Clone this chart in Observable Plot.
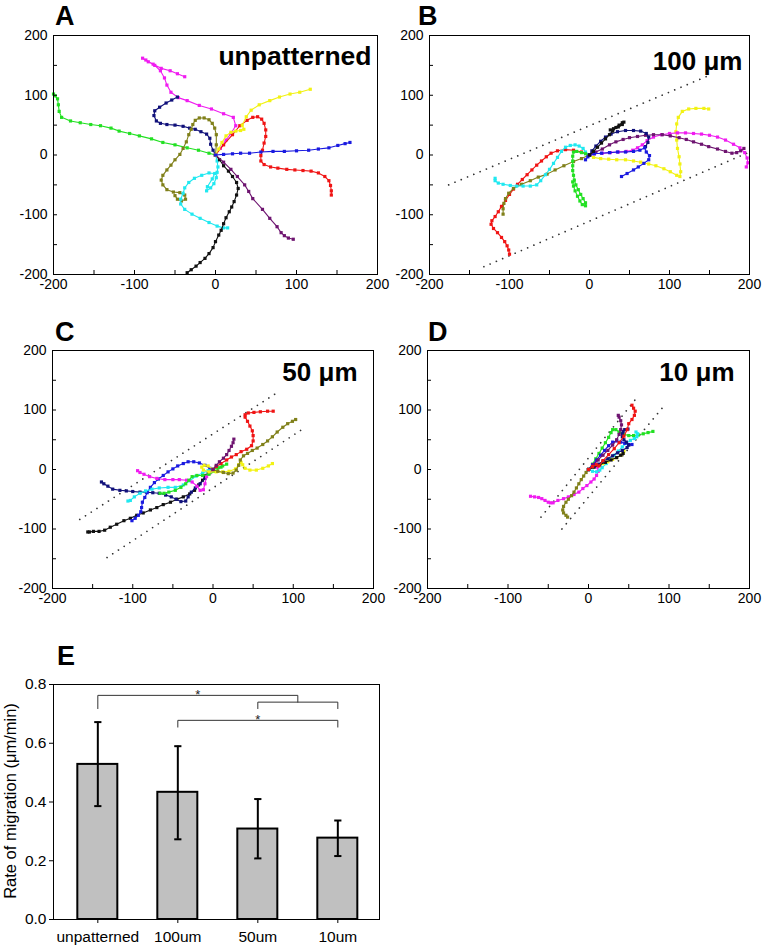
<!DOCTYPE html>
<html><head><meta charset="utf-8">
<script src="https://cdn.jsdelivr.net/npm/d3@7"></script>
<script src="https://cdn.jsdelivr.net/npm/@observablehq/plot@0.6"></script>
<style>
body{margin:0;background:#fff;}
#root{position:relative;width:764px;height:947px;overflow:hidden;font-family:"Liberation Sans",Arial,sans-serif;color:#000;}
.panel{position:absolute;}
.letter{position:absolute;font-weight:bold;font-size:27px;line-height:1;}
.ylab{position:absolute;white-space:nowrap;font-size:16.5px;transform:translate(-50%,-50%) rotate(-90deg);}
</style></head><body><div id="root"></div>
<script>
// ---------- Panel A: unpatterned ----------
const A_magenta=[[0,0],[6,11],[13,25],[19,36],[25,49],[22,63],[10,69],[-5,77],[-20,83],[-35,91],[-46,96],[-55,105],[-60,117],[-63,129],[-68,141],[-75,150],[-83,156],[-90,162],[-86,159],[-77,152],[-67,145],[-56,141],[-47,136],[-38,131]];
const A_green=[[0,0],[-8,3],[-21,8],[-35,12],[-50,17],[-65,21],[-79,27],[-94,32],[-106,36],[-119,40],[-129,45],[-142,49],[-154,51],[-167,54],[-179,57],[-190,63],[-193,73],[-194,84],[-195,94],[-198,99],[-200,102]];
const A_navy=[[0,0],[-3,8],[-6,18],[-7,28],[-11,35],[-18,39],[-25,43],[-32,45],[-40,48],[-50,50],[-60,51],[-68,53],[-73,57],[-76,66],[-75,74],[-69,80],[-61,87],[-54,92],[-47,97]];
const A_olive=[[0,0],[1,17],[1,34],[-1,45],[-4,53],[-8,59],[-14,62],[-20,62],[-25,58],[-28,51],[-30,43],[-33,34],[-36,22],[-40,11],[-44,1],[-50,-8],[-55,-17],[-60,-25],[-65,-34],[-67,-42],[-65,-50],[-60,-58],[-52,-62],[-44,-63],[-38,-67],[-37,-74],[-42,-77],[-47,-74],[-50,-68]];
const A_cyan=[[0,0],[2,-10],[3,-20],[2,-29],[1,-38],[-2,-48],[-6,-55],[-11,-60],[-10,-53],[-4,-40],[-1,-31],[-8,-30],[-17,-34],[-26,-39],[-33,-46],[-38,-55],[-40,-64],[-43,-74],[-43,-82],[-38,-91],[-29,-99],[-19,-106],[-8,-113],[2,-119],[10,-122],[15,-122]];
const A_black=[[0,0],[5,-8],[10,-18],[16,-27],[21,-36],[26,-46],[28,-56],[26,-67],[23,-78],[20,-87],[17,-95],[13,-105],[10,-115],[7,-126],[4,-134],[0,-145],[-3,-155],[-8,-165],[-13,-173],[-19,-180],[-24,-186],[-30,-192],[-35,-197]];
const A_purple=[[0,0],[10,-12],[19,-24],[27,-36],[36,-50],[41,-61],[46,-73],[58,-91],[67,-106],[76,-120],[81,-130],[85,-135],[90,-139],[96,-141]];
const A_yellow=[[0,0],[4,10],[8,21],[13,32],[19,38],[25,40],[31,41],[35,43],[33,50],[38,64],[44,75],[54,84],[67,91],[79,97],[92,102],[104,105],[117,110]];
const A_red=[[0,0],[10,17],[21,34],[30,49],[39,58],[46,63],[52,64],[57,60],[60,53],[62,42],[62,31],[60,20],[58,8],[56,-1],[56,-10],[60,-16],[68,-20],[77,-22],[88,-24],[98,-25],[108,-26],[118,-27],[127,-30],[135,-36],[140,-43],[142,-51],[143,-60],[143,-67]];
const A_blue=[[0,0],[10,1],[21,2],[31,3],[42,3],[56,5],[71,6],[85,6],[100,7],[115,8],[127,10],[140,12],[151,16],[160,19],[166,21]];

// ---------- Panel B: 100 µm ----------
const B_red=[[0,0],[-10,5],[-20,8],[-30,9],[-40,7],[-48,3],[-54,-3],[-60,-10],[-66,-17],[-72,-25],[-78,-33],[-84,-41],[-90,-49],[-95,-57],[-100,-66],[-105,-76],[-110,-86],[-114,-95],[-118,-103],[-122,-110],[-123,-116],[-120,-123],[-115,-130],[-110,-138],[-106,-145],[-103,-152],[-101,-159],[-100,-166]];
const B_cyan=[[0,0],[-5,5],[-8,11],[-13,15],[-18,17],[-24,16],[-30,13],[-35,6],[-40,-4],[-45,-14],[-50,-24],[-55,-33],[-61,-43],[-66,-50],[-74,-52],[-83,-52],[-91,-52],[-99,-51],[-108,-49],[-114,-47],[-118,-43],[-118,-39]];
const B_olive=[[0,0],[-10,-6],[-20,-11],[-32,-18],[-43,-25],[-53,-32],[-64,-37],[-74,-43],[-85,-49],[-95,-56],[-101,-64],[-105,-73],[-107,-81],[-108,-90],[-108,-99]];
const B_green=[[0,0],[-5,2],[-10,4],[-16,6],[-20,5],[-21,-2],[-21,-10],[-21,-18],[-21,-26],[-20,-34],[-19,-42],[-17,-50],[-14,-58],[-11,-66],[-8,-73],[-5,-80],[-5,-85],[-9,-83],[-12,-77],[-15,-69],[-18,-60],[-20,-52],[-21,-45]];
const B_black=[[0,0],[5,6],[10,13],[15,20],[20,27],[25,34],[29,40],[33,46],[37,50],[41,54],[43,55],[41,51],[36,47],[30,44],[26,42]];
const B_navy=[[0,0],[3,7],[8,15],[14,23],[20,30],[27,35],[35,39],[45,41],[55,41],[64,40],[71,36],[74,30],[73,21],[70,14]];
const B_blue=[[0,0],[-5,-8],[-2,-3],[6,2],[15,3],[25,4],[35,5],[45,5],[55,6],[63,8],[69,12],[71,5],[75,-1],[74,-8],[68,-14],[61,-20],[55,-25],[47,-31],[40,-36]];
const B_yellow=[[0,0],[5,-4],[14,-6],[24,-7],[34,-8],[45,-8],[55,-10],[64,-12],[74,-15],[83,-18],[93,-23],[101,-28],[109,-34],[113,-36],[114,-28],[113,-15],[112,-3],[110,11],[109,25],[108,39],[109,52],[111,63],[116,73],[124,77],[133,78],[143,78],[149,77]];
const B_magenta=[[0,0],[6,2],[16,3],[26,4],[36,5],[46,6],[54,8],[60,12],[66,17],[72,24],[80,30],[90,34],[100,36],[110,37],[120,37],[130,36],[140,35],[150,33],[160,30],[170,25],[180,18],[188,12],[194,4],[197,-5],[198,-13],[196,-20]];
const B_purple=[[0,0],[8,5],[16,10],[25,17],[33,22],[42,26],[50,29],[60,31],[70,33],[80,34],[91,34],[101,32],[112,29],[121,26],[130,22],[140,18],[149,14],[160,10],[170,6],[178,3],[184,4],[189,7],[193,11]];
const B_guideUpper=[[-176,-50],[151,134]];
const B_guideLower=[[-132,-187],[200,5]];

// ---------- Panel C: 50 µm ----------
const C_red=[[0,0],[4,5],[10,10],[17,16],[23,21],[29,25],[35,30],[42,34],[48,40],[50,48],[50,57],[49,65],[46,73],[43,81],[40,88],[40,92],[44,95],[51,96],[59,97],[68,98],[75,98]];
const C_olive=[[0,0],[6,-3],[13,-5],[19,-7],[25,-6],[29,-1],[32,7],[34,16],[38,23],[43,27],[49,32],[55,36],[62,42],[68,48],[74,55],[80,63],[87,71],[93,77],[99,81],[103,84]];
const C_yellow=[[0,0],[-6,6],[-11,7],[-14,4],[-12,-1],[-5,-4],[4,-4],[12,-4],[20,-3],[28,1],[32,8],[35,12],[37,8],[40,2],[46,-1],[54,-1],[62,2],[69,6],[74,10]];
const C_magenta=[[0,0],[-4,-6],[-8,-12],[-10,-24],[-12,-34],[-16,-35],[-20,-28],[-26,-21],[-33,-18],[-42,-17],[-50,-17],[-60,-17],[-70,-15],[-79,-12],[-86,-8],[-91,-5],[-94,-2]];
const C_cyan=[[0,0],[-6,-2],[-13,-6],[-21,-11],[-29,-19],[-37,-26],[-47,-30],[-56,-30],[-67,-31],[-76,-33],[-84,-36],[-91,-40],[-98,-46],[-103,-52],[-106,-53]];
const C_green=[[0,0],[6,3],[12,6],[17,9],[10,4],[3,-3],[-5,-8],[-13,-10],[-20,-10],[-26,-12],[-30,-18],[-34,-24],[-40,-30],[-47,-35],[-55,-38],[-61,-40],[-66,-40]];
const C_purple=[[0,0],[4,7],[8,13],[13,19],[17,25],[20,32],[23,39],[25,45],[26,51]];
const C_navy=[[0,0],[-6,-7],[-10,-15],[-16,-24],[-22,-31],[-27,-38],[-31,-46],[-34,-53],[-40,-54],[-46,-50],[-52,-46],[-59,-43],[-67,-40],[-75,-39],[-83,-38],[-91,-38],[-100,-37],[-108,-36],[-116,-35],[-125,-33],[-131,-28],[-136,-24],[-139,-21]];
const C_blue=[[0,0],[-4,2],[-10,7],[-17,11],[-24,13],[-31,13],[-37,10],[-44,6],[-50,1],[-56,-4],[-62,-10],[-68,-16],[-73,-22],[-78,-30],[-82,-39],[-85,-47],[-88,-55],[-89,-64],[-90,-71],[-93,-77],[-97,-82],[-101,-86]];
const C_black=[[0,0],[-9,-10],[-13,-18],[-18,-26],[-23,-35],[-29,-41],[-37,-46],[-45,-50],[-53,-55],[-62,-59],[-70,-64],[-78,-68],[-87,-73],[-95,-77],[-103,-82],[-111,-86],[-120,-92],[-128,-97],[-135,-102],[-142,-104],[-149,-104],[-154,-105],[-156,-105]];
const C_guideUpper=[[-166,-84],[81,130]];
const C_guideLower=[[-132,-148],[114,70]];

// ---------- Panel D: 10 µm ----------
const D_magenta=[[0,0],[5,5],[8,9],[11,4],[12,-3],[10,-10],[7,-16],[3,-21],[-2,-27],[-7,-32],[-12,-38],[-18,-42],[-25,-46],[-31,-49],[-38,-52],[-44,-56],[-47,-56],[-50,-55],[-54,-52],[-58,-49],[-62,-47],[-67,-46],[-72,-45]];
const D_olive=[[0,0],[-3,-5],[-6,-11],[-9,-17],[-12,-24],[-15,-31],[-18,-38],[-21,-44],[-25,-50],[-28,-55],[-31,-62],[-32,-68],[-31,-73],[-28,-77],[-26,-80]];
const D_red=[[0,0],[5,5],[10,8],[13,6],[18,15],[25,25],[32,35],[38,45],[44,56],[48,67],[50,77],[54,84],[57,91],[58,98],[56,103],[54,108]];
const D_purple=[[0,0],[6,8],[12,16],[18,24],[24,32],[30,41],[35,50],[38,59],[40,67],[41,75],[40,82],[38,88],[37,91]];
const D_green=[[0,0],[5,9],[9,18],[13,27],[17,36],[21,45],[25,54],[28,62],[30,67],[34,67],[38,63],[44,59],[50,57],[56,57],[62,58],[68,60],[74,62],[80,64]];
const D_navy=[[0,0],[6,5],[12,9],[18,14],[24,18],[30,23],[36,28],[42,32],[48,37],[50,41],[47,46],[44,50],[42,55],[42,60],[43,64],[45,67],[49,68]];
const D_blue=[[0,0],[5,8],[10,16],[15,24],[20,32],[25,40],[30,46],[35,48],[40,46],[45,44],[50,42],[54,42]];
const D_cyan=[[0,0],[5,-3],[10,-4],[14,-1],[17,3],[22,10],[27,17],[32,24],[37,31],[42,38],[47,44],[52,49],[57,52],[60,55],[61,60],[59,63]];
const D_yellow=[[0,0],[6,4],[12,7],[18,10],[24,13],[30,17],[35,20],[40,24],[43,27],[44,31]];
const D_black=[[0,0],[7,4],[14,8],[21,12],[28,16],[35,20],[40,24],[43,27]];
const D_guideLeft=[[-59,-80],[62,124]];
const D_guideRight=[[-33,-100],[92,104]];

// ---------- Panel E: bar chart ----------
const E_categories=["unpatterned","100um","50um","10um"];
const E_rate=[0.528,0.433,0.308,0.277];
const E_errHigh=[0.672,0.590,0.410,0.337];
const E_errLow=[0.386,0.273,0.208,0.216];
const E_bracket1=[[0,0.718],[0,0.763],[2.5,0.763],[2.5,0.740]];
const E_bracket2=[[2,0.718],[2,0.740],[3,0.740],[3,0.718]];
const E_bracket3=[[1,0.655],[1,0.678],[3,0.678],[3,0.655]];
const E_stars=[[1.25,0.780],[2,0.692]];

const axisMajor=[-200,-100,0,100,200];
const axisMinor=[-150,-50,50,150];
const yTicksE=[0,0.2,0.4,0.6,0.8];

// colours (style)
const COL={magenta:"#f01cf0",green:"#22e022",navy:"#10107a",olive:"#80801a",cyan:"#20e8f0",black:"#111111",purple:"#6e1470",yellow:"#f2f214",red:"#f01414",blue:"#1a1ae0"};
const FONT='"Liberation Sans", Arial, sans-serif';

const root=document.getElementById("root");

function trajPanel(o){
  const marks=[];
  for(const g of o.guides){
    marks.push(Plot.line(g,{x:d=>d[0],y:d=>d[1],stroke:"#333",strokeWidth:1.7,strokeDasharray:"0.01,6.8",strokeLinecap:"round"}));
  }
  for(const s of o.series){
    marks.push(Plot.line(s.pts,{x:d=>d[0],y:d=>d[1],stroke:s.color,strokeWidth:1.1}));
    marks.push(Plot.dot(s.pts,{x:d=>d[0],y:d=>d[1],symbol:"square",r:1.8,fill:s.color,stroke:null}));
  }
  marks.push(Plot.frame({stroke:"#000",strokeWidth:1}));
  marks.push(Plot.axisX({ticks:axisMajor,tickSize:0,tickPadding:5,tickFormat:d=>String(d),fontSize:14,label:null}));
  marks.push(Plot.axisX({ticks:axisMajor.concat(axisMinor),tickSize:-4,tickFormat:()=>"",label:null}));
  marks.push(Plot.axisY({ticks:axisMajor,tickSize:0,tickPadding:6,tickFormat:d=>String(d),fontSize:14,label:null}));
  marks.push(Plot.axisY({ticks:axisMajor.concat(axisMinor),tickSize:-4,tickFormat:()=>"",label:null}));
  marks.push(Plot.text([o.label],{text:d=>d,frameAnchor:"top-right",textAnchor:"end",lineAnchor:"top",dx:o.ldx,dy:o.ldy,fontSize:o.lfs,fontWeight:"bold",fill:"#000"}));
  const svg=Plot.plot({
    width:o.w,height:o.h,marginLeft:o.ml,marginRight:o.mr,marginTop:o.mt,marginBottom:o.mb,
    x:{domain:[-200,200],label:null},y:{domain:[-200,200],label:null},
    style:{fontFamily:FONT,fontSize:"14px",color:"#000",background:"transparent",overflow:"visible"},
    marks
  });
  const div=document.createElement("div");
  div.className="panel";div.style.left=o.left+"px";div.style.top=o.top+"px";
  div.appendChild(svg);root.appendChild(div);
}

trajPanel({left:0,top:0,w:382,h:310,ml:53,mr:5,mt:35,mb:36,ldx:-6,ldy:11,lfs:26.5,label:"unpatterned",guides:[],
  series:[{pts:A_green,color:COL.green},{pts:A_magenta,color:COL.magenta},{pts:A_navy,color:COL.navy},{pts:A_olive,color:COL.olive},{pts:A_cyan,color:COL.cyan},{pts:A_black,color:COL.black},{pts:A_purple,color:COL.purple},{pts:A_red,color:COL.red},{pts:A_yellow,color:COL.yellow},{pts:A_blue,color:COL.blue}]});
trajPanel({left:382,top:0,w:382,h:310,ml:47,mr:15,mt:35,mb:36,ldx:-7,ldy:16,lfs:26,label:"100 \u03bcm",guides:[B_guideUpper,B_guideLower],
  series:[{pts:B_red,color:COL.red},{pts:B_olive,color:COL.olive},{pts:B_cyan,color:COL.cyan},{pts:B_green,color:COL.green},{pts:B_yellow,color:COL.yellow},{pts:B_magenta,color:COL.magenta},{pts:B_purple,color:COL.purple},{pts:B_navy,color:COL.navy},{pts:B_blue,color:COL.blue},{pts:B_black,color:COL.black}]});
trajPanel({left:0,top:310,w:382,h:310,ml:52,mr:9,mt:40,mb:32,ldx:-16,ldy:12,lfs:26,label:"50 \u03bcm",guides:[C_guideUpper,C_guideLower],
  series:[{pts:C_black,color:COL.black},{pts:C_navy,color:COL.navy},{pts:C_blue,color:COL.blue},{pts:C_cyan,color:COL.cyan},{pts:C_magenta,color:COL.magenta},{pts:C_green,color:COL.green},{pts:C_yellow,color:COL.yellow},{pts:C_red,color:COL.red},{pts:C_olive,color:COL.olive},{pts:C_purple,color:COL.purple}]});
trajPanel({left:382,top:310,w:382,h:310,ml:45,mr:15,mt:40,mb:32,ldx:-15,ldy:12,lfs:26,label:"10 \u03bcm",guides:[D_guideLeft,D_guideRight],
  series:[{pts:D_magenta,color:COL.magenta},{pts:D_olive,color:COL.olive},{pts:D_green,color:COL.green},{pts:D_cyan,color:COL.cyan},{pts:D_yellow,color:COL.yellow},{pts:D_black,color:COL.black},{pts:D_blue,color:COL.blue},{pts:D_navy,color:COL.navy},{pts:D_purple,color:COL.purple},{pts:D_red,color:COL.red}]});

// Panel E
const bars=E_categories.map((c,i)=>({i,c,v:E_rate[i],hi:E_errHigh[i],lo:E_errLow[i]}));
const eSvg=Plot.plot({
  width:382,height:337,marginLeft:53,marginRight:3,marginTop:74,marginBottom:28,
  x:{domain:[-0.554,3.521],label:null},y:{domain:[0,0.8],label:null},
  style:{fontFamily:FONT,fontSize:"15.5px",color:"#000",background:"transparent",overflow:"visible"},
  marks:[
    Plot.rectY(bars,{x1:d=>d.i-0.25,x2:d=>d.i+0.25,y1:0,y2:"v",fill:"#c0c0c0",stroke:"#000",strokeWidth:2}),
    Plot.ruleX(bars,{x:"i",y1:"lo",y2:"hi",stroke:"#000",strokeWidth:2}),
    Plot.link(bars,{x1:d=>d.i-0.045,x2:d=>d.i+0.045,y1:"hi",y2:"hi",stroke:"#000",strokeWidth:2}),
    Plot.link(bars,{x1:d=>d.i-0.045,x2:d=>d.i+0.045,y1:"lo",y2:"lo",stroke:"#000",strokeWidth:2}),
    Plot.line(E_bracket1,{x:d=>d[0],y:d=>d[1],stroke:"#333",strokeWidth:1}),
    Plot.line(E_bracket2,{x:d=>d[0],y:d=>d[1],stroke:"#333",strokeWidth:1}),
    Plot.line(E_bracket3,{x:d=>d[0],y:d=>d[1],stroke:"#333",strokeWidth:1}),
    Plot.text(E_stars,{x:d=>d[0],y:d=>d[1],text:()=>"*",fontSize:13,dy:4,fill:"#222"}),
    Plot.frame({stroke:"#000",strokeWidth:1}),
    Plot.axisX({ticks:[0,1,2,3],tickFormat:i=>E_categories[i],tickSize:4,tickPadding:7,fontSize:15.5,label:null}),
    Plot.axisY({ticks:yTicksE,tickFormat:d3.format(".1f"),tickSize:4,tickPadding:3,fontSize:15.5,label:null})
  ]
});
const eDiv=document.createElement("div");
eDiv.className="panel";eDiv.style.left="0px";eDiv.style.top="610px";
eDiv.appendChild(eSvg);root.appendChild(eDiv);

const yl=document.createElement("div");
yl.className="ylab";yl.style.left="10px";yl.style.top="801px";
yl.textContent="Rate of migration (\u03bcm/min)";
root.appendChild(yl);

// panel letters
[["A",55,3],["B",418,3],["C",55,319],["D",428,319],["E",57,643]].forEach(([t,x,y])=>{
  const d=document.createElement("div");d.className="letter";d.textContent=t;
  d.style.left=x+"px";d.style.top=y+"px";root.appendChild(d);
});
</script></body></html>
